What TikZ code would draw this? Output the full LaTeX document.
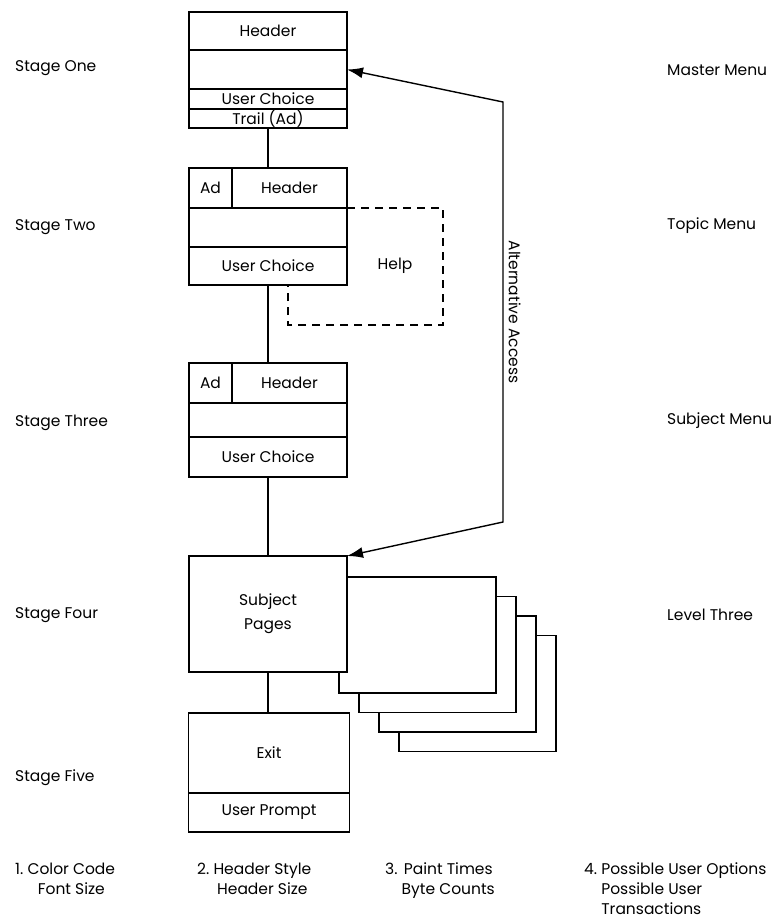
\documentclass[tikz,border=0pt]{standalone}
\usepackage{fontspec}
\setmainfont{Poppins}
\usetikzlibrary{arrows.meta,positioning,calc}
\tikzset{
  cell/.style={draw,line width=1.4pt,inner sep=0pt,outer sep=0pt,minimum width=158pt},
  adcell/.style={cell,minimum width=43pt},
  hdcell/.style={cell,minimum width=115pt},
  page/.style={draw,line width=1.4pt,fill=white,minimum width=157pt,minimum height=116pt,
               anchor=north west,inner sep=0pt,outer sep=0pt},
  link/.style={line width=1.4pt},
  helpline/.style={line width=1.4pt,dash pattern=on 8pt off 6pt},
  access/.style={{Latex[length=16pt,width=11pt]}-{Latex[length=16pt,width=11pt]},line width=1.4pt},
  sidelbl/.style={anchor=west,inner sep=0pt},
  notelbl/.style={anchor=base west,inner sep=0pt}
}

\begin{document}
\begin{tikzpicture}[x=1pt,y=-1pt,font=\fontsize{15.5}{20}\selectfont]
  \useasboundingbox (0,0) rectangle (777,920);
  % stage one
  \node[cell,minimum height=38pt,anchor=north] (s1h) at (268,12) {Header};
  \node[cell,minimum height=39pt,below=0pt of s1h] (s1b) {};
  \node[cell,minimum height=20pt,below=0pt of s1b] (s1u) {User Choice};
  \node[cell,minimum height=19pt,below=0pt of s1u] (s1t) {Trail (Ad)};
  % stage two
  \node[adcell,minimum height=40pt,anchor=north west] (s2ad) at (189,168) {Ad};
  \node[hdcell,minimum height=40pt,right=0pt of s2ad] (s2h) {Header};
  \node[cell,minimum height=39pt,anchor=north west] (s2b) at (s2ad.south west) {};
  \node[cell,minimum height=38pt,below=0pt of s2b] (s2u) {User Choice};
  % stage three
  \node[adcell,minimum height=40pt,anchor=north west] (s3ad) at (189,363) {Ad};
  \node[hdcell,minimum height=40pt,right=0pt of s3ad] (s3h) {Header};
  \node[cell,minimum height=34pt,anchor=north west] (s3b) at (s3ad.south west) {};
  \node[cell,minimum height=40pt,below=0pt of s3b] (s3u) {User Choice};
  % pages stacked behind stage four
  \foreach \k in {3,2,1,0}
    \node[page] (pg\k) at ({339+20*\k},{577+19.5*\k}) {};
  % stage four
  \node[cell,minimum height=116pt,fill=white,align=center,anchor=north] (s4) at (268,556)
    {Subject\\[4pt]Pages};
  % stage five
  \node[cell,minimum width=161pt,minimum height=80pt,anchor=north] (s5e) at (269,713) {Exit};
  \node[cell,minimum width=161pt,minimum height=39pt,below=0pt of s5e] (s5p) {User Prompt};

  \draw[link] (s1t.south) -- (s1t.south |- s2h.north);
  \draw[link] (s2u.south) -- (s2u.south |- s3h.north);
  \draw[link] (s3u.south) -- (s4.north);
  \draw[link] (s4.south) -- (s4.south |- s5e.north);

  % help loop
  \node (help) at (395,266) {Help};
  \coordinate (helpcorner) at (443,325);
  \draw[helpline] (s2b.north east) -| (helpcorner) -| ([xshift=20pt]s2u.south);

  % alternative access
  \coordinate (altTop) at (503,102);
  \coordinate (altBot) at (503,522);
  \draw[access] (s4.north east) -- (altBot)
    -- node[midway,anchor=south,rotate=-90,inner sep=5pt] {Alternative Access} (altTop)
    -- (s1b.east);

  % stage names
  \node[sidelbl] (st1) at (15,68) {Stage One};
  \node[sidelbl] (st2) at (15,227) {Stage Two};
  \node[sidelbl] (st3) at (15,423) {Stage Three};
  \node[sidelbl] (st4) at (15,615) {Stage Four};
  \node[sidelbl] (st5) at (15,778) {Stage Five};
  % menu names
  \node[sidelbl] (mn1) at (667,70) {Master Menu};
  \node[sidelbl] (mn2) at (667,226) {Topic Menu};
  \node[sidelbl] (mn3) at (667,421) {Subject Menu};
  \node[sidelbl] (mn4) at (667,615) {Level Three};

  % notes
  \node[notelbl] (n1) at (15,874)
    {\begin{tabular}[t]{@{}l@{\ }c@{}}1. & Color Code\\ & Font Size\end{tabular}};
  \node[notelbl] (n2) at (197,874)
    {\begin{tabular}[t]{@{}l@{\ }c@{}}2. & Header Style\\ & Header Size\end{tabular}};
  \node[notelbl] (n3) at (385,874)
    {\begin{tabular}[t]{@{}l@{\ }c@{}}3. & Paint Times\\ & Byte Counts\end{tabular}};
  \node[notelbl] (n4) at (584,874)
    {\begin{tabular}[t]{@{}l@{\ }l@{}}4. & Possible User Options\\ & Possible User\\ & Transactions\end{tabular}};
\end{tikzpicture}
\end{document}
